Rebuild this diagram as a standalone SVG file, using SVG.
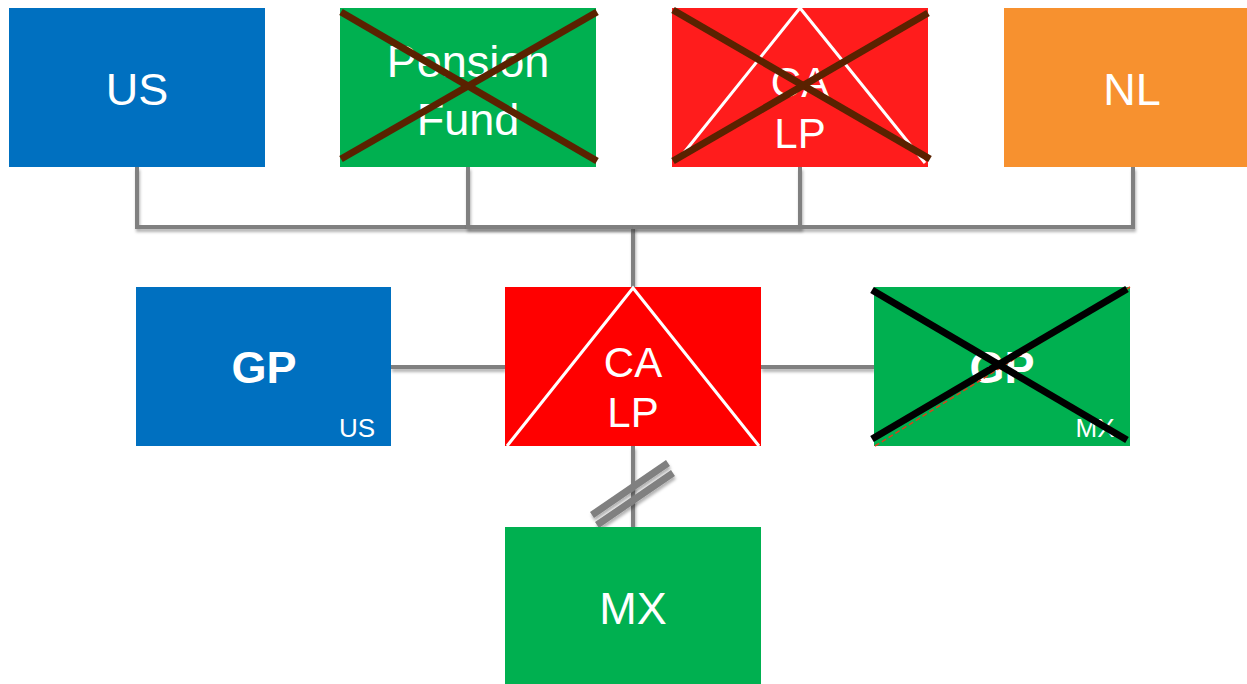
<svg xmlns="http://www.w3.org/2000/svg" width="1247" height="684" viewBox="0 0 1247 684">
  <defs>
    <filter id="shadow" filterUnits="userSpaceOnUse" x="0" y="0" width="1247" height="684">
      <feDropShadow dx="1" dy="3" stdDeviation="1.5" flood-color="#000" flood-opacity="0.3"/>
    </filter>
    <style>
      .lbl { font-family: "Liberation Sans", Arial, sans-serif; fill: #fff; text-anchor: middle; }
      .big { font-size: 45px; }
      .mid { font-size: 42px; }
      .bold { font-size: 45px; font-weight: bold; }
      .small { font-size: 26px; }
      .wire { fill: none; stroke: #808080; stroke-width: 4; filter: url(#shadow); }
      .tri { fill: none; stroke: #fff; stroke-width: 3; }
      .xbrown { stroke: #5a2200; stroke-width: 7; }
      .xblack { stroke: #000; stroke-width: 7; }
    </style>
  </defs>
  <rect width="1247" height="684" fill="#fff"/>

  <!-- connectors -->
  <g id="connectors">
    <path class="wire" d="M137 167 V227 H633 V287"/>
    <path class="wire" d="M468 167 V227 H633"/>
    <path class="wire" d="M800 167 V227 H633"/>
    <path class="wire" d="M1133 167 V227 H633"/>
    <path class="wire" d="M391 367 H505"/>
    <path class="wire" d="M761 367 H874"/>
    <path class="wire" d="M633 446 V527"/>
    <!-- broken-link mark -->
    <line x1="592" y1="515" x2="668" y2="463" stroke="#808080" stroke-width="7" filter="url(#shadow)"/>
    <line x1="597" y1="525" x2="673" y2="473" stroke="#808080" stroke-width="7" filter="url(#shadow)"/>
  </g>

  <!-- top row -->
  <g id="us">
    <rect x="9" y="8" width="256" height="159" fill="#0070C0"/>
    <text class="lbl big" x="137" y="105">US</text>
  </g>
  <g id="pension-fund">
    <rect x="340" y="8" width="256" height="159" fill="#00B050"/>
    <text class="lbl big" x="468" y="77">Pension</text>
    <text class="lbl big" x="468" y="135">Fund</text>
    <line class="xbrown" x1="341" y1="12" x2="597" y2="161"/>
    <line class="xbrown" x1="341" y1="159" x2="597" y2="12"/>
  </g>
  <g id="ca-lp-top">
    <rect x="672" y="8" width="256" height="159" fill="#FF1C1C"/>
    <polyline class="tri" points="678,160 800,8 925,163"/>
    <text class="lbl mid" x="800" y="97">CA</text>
    <text class="lbl mid" x="800" y="148">LP</text>
    <line class="xbrown" x1="673" y1="10" x2="930" y2="159"/>
    <line class="xbrown" x1="673" y1="161" x2="928" y2="13"/>
  </g>
  <g id="nl">
    <rect x="1004" y="8" width="243" height="159" fill="#F7912F"/>
    <text class="lbl big" x="1132" y="105">NL</text>
  </g>

  <!-- middle row -->
  <g id="gp-us">
    <rect x="136" y="287" width="255" height="159" fill="#0070C0"/>
    <text class="lbl bold" x="264" y="383">GP</text>
    <text class="lbl small" x="357" y="437">US</text>
  </g>
  <g id="ca-lp">
    <rect x="505" y="287" width="256" height="159" fill="#FF0000"/>
    <polyline class="tri" points="507,446 633,288 759,446"/>
    <text class="lbl mid" x="633" y="377">CA</text>
    <text class="lbl mid" x="633" y="427">LP</text>
  </g>
  <g id="gp-mx">
    <rect x="874" y="287" width="256" height="159" fill="#00B050"/>
    <text class="lbl bold" x="1002" y="383">GP</text>
    <text class="lbl small" x="1095" y="437">MX</text>
    <line x1="875" y1="446" x2="1130" y2="287" stroke="#D9401A" stroke-width="1.5" stroke-dasharray="5,3"/>
    <line class="xblack" x1="872" y1="290" x2="1127" y2="440"/>
    <line class="xblack" x1="872" y1="439" x2="1127" y2="289"/>
  </g>

  <!-- bottom row -->
  <g id="mx">
    <rect x="505" y="527" width="256" height="157" fill="#00B050"/>
    <text class="lbl big" x="633" y="624">MX</text>
  </g>
</svg>
